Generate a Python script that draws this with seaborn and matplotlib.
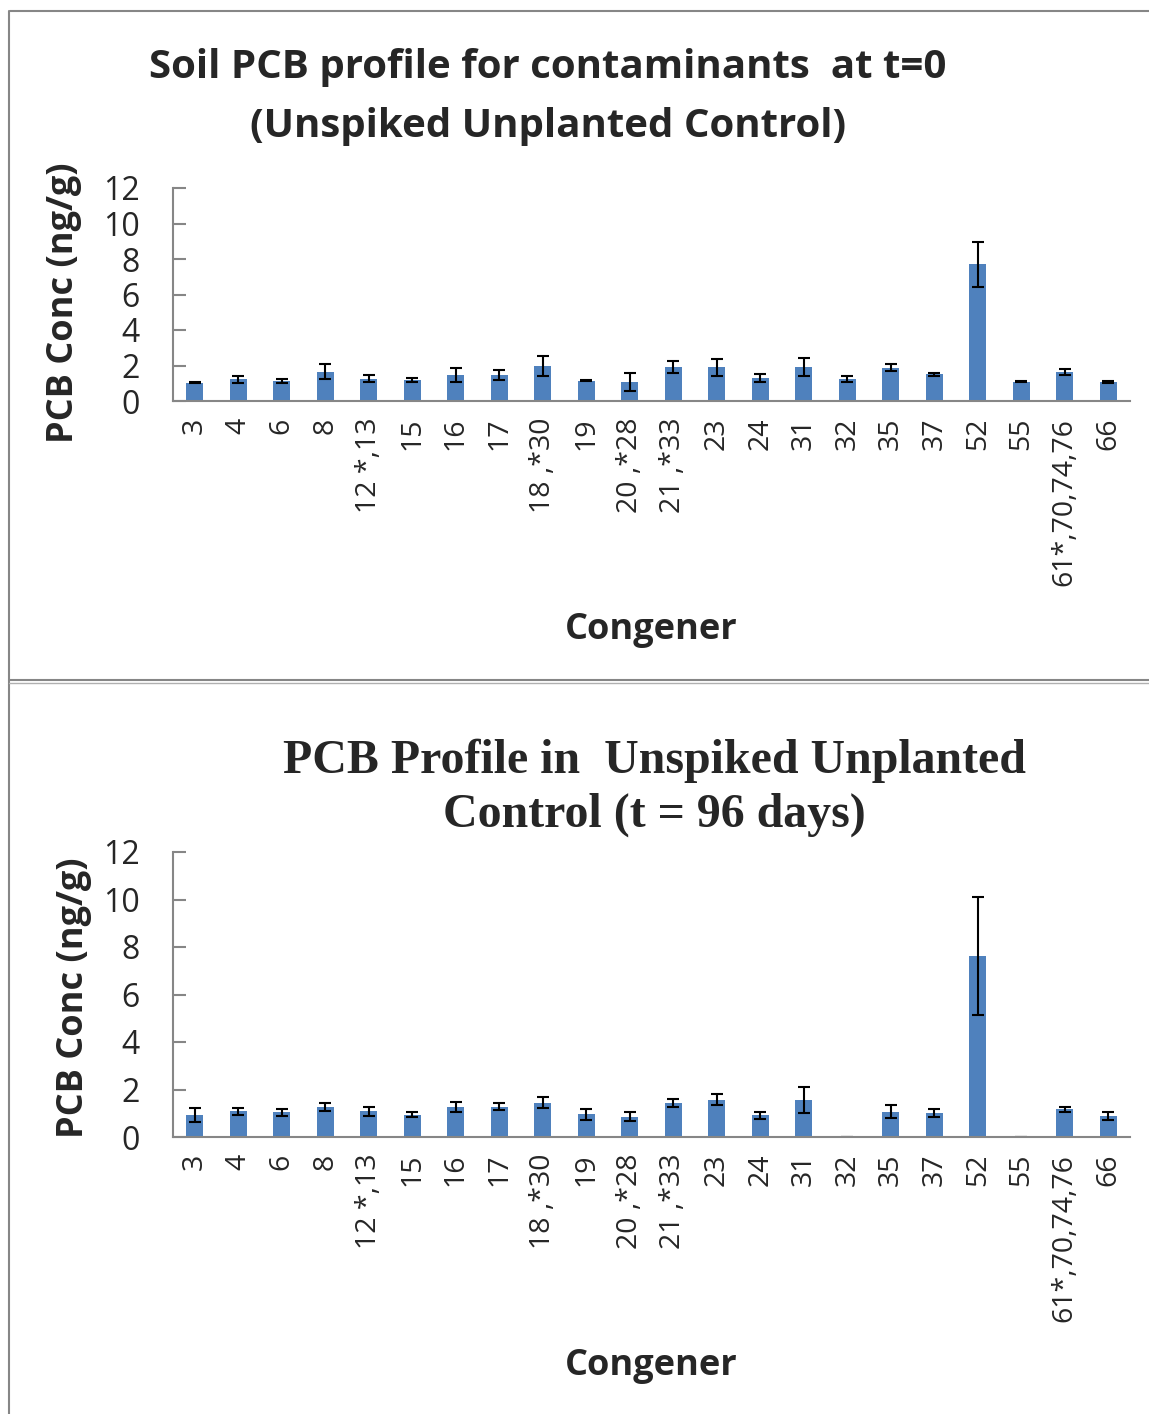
import matplotlib
matplotlib.use("Agg")
import matplotlib.pyplot as plt
from matplotlib.lines import Line2D
import seaborn as sns
import pandas as pd

# congener labels shared by both panels
congeners = ["3", "4", "6", "8", "12 *,13", "15", "16", "17", "18 ,*30", "19",
             "20 ,*28", "21 ,*33", "23", "24", "31", "32", "35", "37", "52", "55",
             "61*,70,74,76", "66"]

# t = 0
conc_t0 = [1.02, 1.23, 1.13, 1.66, 1.25, 1.19, 1.47, 1.47, 1.96, 1.13,
           1.06, 1.92, 1.89, 1.30, 1.91, 1.23, 1.87, 1.51, 7.70, 1.09,
           1.64, 1.08]
err_t0 = [0.03, 0.20, 0.13, 0.42, 0.19, 0.13, 0.38, 0.28, 0.56, 0.03,
          0.52, 0.35, 0.48, 0.24, 0.51, 0.17, 0.19, 0.08, 1.27, 0.04,
          0.15, 0.04]

# t = 96 days
conc_t96 = [0.93, 1.08, 1.05, 1.28, 1.08, 0.94, 1.26, 1.28, 1.45, 0.95,
            0.86, 1.43, 1.56, 0.91, 1.54, 0.02, 1.07, 1.01, 7.62, 0.02,
            1.16, 0.88]
err_t96 = [0.29, 0.16, 0.15, 0.17, 0.20, 0.10, 0.20, 0.15, 0.23, 0.25,
           0.18, 0.15, 0.23, 0.15, 0.55, 0.0, 0.28, 0.15, 2.48, 0.0,
           0.11, 0.17]

BAR = "#4F81BD"
AXIS_GREY = "#868686"

sns.set_style("white")
plt.rcParams["font.family"] = ["Open Sans", "DejaVu Sans"]

W, H = 1149, 1414
fig = plt.figure(figsize=(W / 100, H / 100), dpi=100)


def px_axes(left, top, right, bottom):
    return fig.add_axes([left / W, 1 - bottom / H, (right - left) / W, (bottom - top) / H])


def draw_panel(ax, values, errors):
    df = pd.DataFrame({"congener": congeners, "conc": values})
    sns.barplot(data=df, x="congener", y="conc", color=BAR, width=0.4,
                saturation=1, ax=ax, edgecolor="none")
    ax.errorbar(range(len(congeners)), values, yerr=errors, fmt="none",
                ecolor="black", elinewidth=1.5, capsize=4.5, capthick=1.5)
    ax.set_ylim(0, 12)
    ax.set_yticks(range(0, 13, 2))
    ax.set_xlim(-0.5, len(congeners) - 0.5)
    for s in ["top", "right"]:
        ax.spines[s].set_visible(False)
    for s in ["left", "bottom"]:
        ax.spines[s].set_color(AXIS_GREY)
        ax.spines[s].set_linewidth(1.5)
    ax.tick_params(axis="y", direction="in", length=9, width=1.5, color=AXIS_GREY,
                   labelsize=23, pad=24, left=True)
    ax.tick_params(axis="x", length=0, labelsize=20.5, pad=12, rotation=90)
    for lab in ax.get_xticklabels():
        lab.set_verticalalignment("top")
    ax.set_xlabel("Congener", fontsize=26, fontweight="bold", labelpad=0)
    ax.set_ylabel("PCB Conc (ng/g)", fontsize=26, fontweight="bold")


ax1 = px_axes(173, 188, 1130, 401)
draw_panel(ax1, conc_t0, err_t0)
ax1.xaxis.set_label_coords(0.5, (401 - 612) / 213)
ax1.yaxis.set_label_coords((82 - 173) / 957, 0.46)
fig.text(548 / W, 1 - 97 / H, "Soil PCB profile for contaminants  at t=0\n(Unspiked Unplanted Control)",
         ha="center", va="center", fontsize=29, fontweight="bold", linespacing=1.65)

ax2 = px_axes(173, 852, 1130, 1137)
draw_panel(ax2, conc_t96, err_t96)
ax2.xaxis.set_label_coords(0.5, (1137 - 1348) / 285)
ax2.yaxis.set_label_coords((92 - 173) / 957, 0.49)
fig.text(654 / W, 1 - 788 / H, "PCB Profile in  Unspiked Unplanted\nControl (t = 96 days)",
         ha="center", va="center", fontsize=34.5, fontweight="bold",
         family="Liberation Serif", linespacing=1.3)

# chart frames
frame = dict(color=AXIS_GREY, linewidth=1.5, transform=fig.transFigure)
fig.add_artist(Line2D([10 / W, 1], [1 - 11 / H] * 2, **frame))
fig.add_artist(Line2D([9 / W] * 2, [1 - 11 / H, 0], **frame))
fig.add_artist(Line2D([9 / W, 1], [1 - 680 / H] * 2, **frame))
fig.add_artist(Line2D([9 / W, 1], [1 - 683 / H] * 2, color="#b0b0b0", linewidth=1,
                      transform=fig.transFigure))

fig.savefig("out.png", dpi=100)
